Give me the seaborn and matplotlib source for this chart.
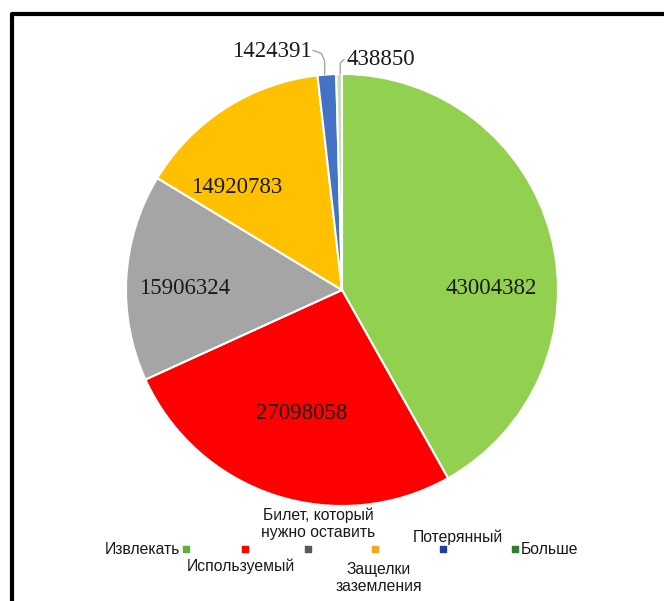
import numpy as np
import matplotlib
matplotlib.use("Agg")
import matplotlib.pyplot as plt
import seaborn as sns
from matplotlib.lines import Line2D

# data
categories = ["Извлекать", "Используемый", "Билет, который\nнужно оставить",
              "Защелки\nзаземления", "Потерянный", "Больше"]
values = [43004382, 27098058, 15906324, 14920783, 1424391, 438850]
slice_colors = ["#92D050", "#FF0000", "#A5A5A5", "#FFC000", "#4472C4", "#C9DDB8"]
legend_colors = ["#5DB33A", "#FF0000", "#595959", "#F5A623", "#1F3FA0", "#2E7D32"]

sns.set_style("white")
plt.rcParams["font.family"] = ["Liberation Sans", "DejaVu Sans"]

W, H = 664, 601
fig = plt.figure(figsize=(W / 100, H / 100), dpi=100)

# pie axes, centre ~ (342, 290) px, radius ~ 216 px
cx, cy, r = 342, 290, 216
ax = fig.add_axes([(cx - r) / W, (H - cy - r) / H, 2 * r / W, 2 * r / H])
wedges, _ = ax.pie(values, colors=slice_colors, startangle=90, counterclock=False,
                   radius=1, wedgeprops=dict(edgecolor="white", linewidth=1.5))
ax.set_xlim(-1, 1)
ax.set_ylim(-1, 1)
ax.set_aspect("equal")
ax.axis("off")

num_font = dict(family=["Liberation Serif", "DejaVu Serif"], fontsize=16.5, color="#1a1a1a")

# inside labels: radius and small angle tweak for each big slice
inner_r = [0.69, 0.60, 0.73, 0.68]
angle_shift = [-14, 0, 3, 13]
for i in range(4):
    w = wedges[i]
    mid = np.deg2rad((w.theta1 + w.theta2) / 2 + angle_shift[i])
    ax.text(inner_r[i] * np.cos(mid), inner_r[i] * np.sin(mid), str(values[i]),
            ha="center", va="center", **num_font)

# outside labels with leader lines
blue_mid = np.deg2rad((wedges[4].theta1 + wedges[4].theta2) / 2)
bx, by = np.cos(blue_mid), np.sin(blue_mid)
ax.text(-0.14, 1.105, str(values[4]), ha="right", va="center", clip_on=False, **num_font)
ax.plot([-0.135, -0.095, bx - 0.01, bx - 0.01], [1.11, 1.095, 1.06, by],
        color="#A6A6A6", lw=1, clip_on=False)

g_mid = np.deg2rad((wedges[5].theta1 + wedges[5].theta2) / 2)
gx, gy = np.cos(g_mid), np.sin(g_mid)
ax.text(0.02, 1.068, str(values[5]), ha="left", va="center", clip_on=False, **num_font)
ax.plot([0.01, gx + 0.005, gx + 0.005], [1.068, 1.05, gy],
        color="#A6A6A6", lw=1, clip_on=False)

# overlay axes in pixel coordinates for the frame and the legend
ov = fig.add_axes([0, 0, 1, 1], facecolor="none")
ov.set_xlim(0, W)
ov.set_ylim(H, 0)
ov.axis("off")
ov.add_line(Line2D([12, 12, W], [H, 14, 14], color="black", lw=3))

marker_x = [186, 245, 308, 375, 443, 515]
marker_y = 549
label_pos = [(180, 549, "right"), (241, 566, "center"), (318, 524, "center"),
             (379, 578, "center"), (458, 537, "center"), (521, 550, "left")]
for i, cat in enumerate(categories):
    ov.scatter(marker_x[i], marker_y, marker="s", s=20, color=legend_colors[i])
    lx, ly, ha = label_pos[i]
    ov.text(lx, ly, cat, ha=ha, va="center", fontsize=11.3, color="#1a1a1a",
            linespacing=1.2)

fig.savefig("out.png", dpi=100)
